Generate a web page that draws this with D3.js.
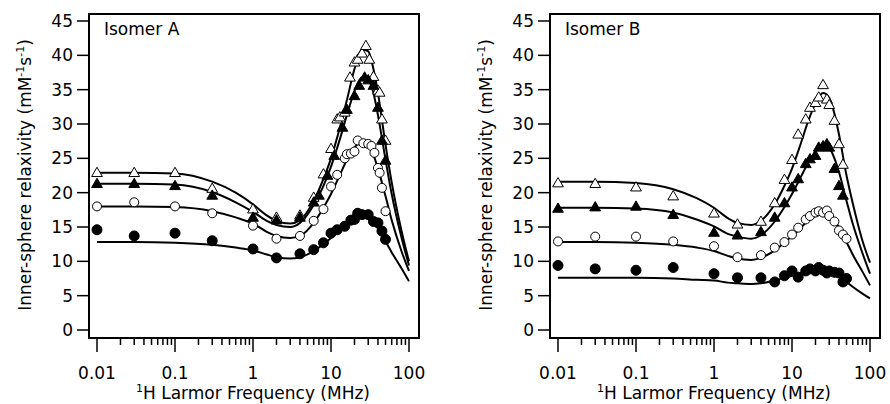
<!DOCTYPE html>
<html>
<head>
<meta charset="utf-8">
<script src="https://cdn.jsdelivr.net/npm/d3@7"></script>
<style>
  body { margin: 0; background: #fff; }
  svg text { font-family: "DejaVu Sans", sans-serif; fill: #000; }
</style>
</head>
<body>
<svg id="chart" width="890" height="404"></svg>
<script>
// ---- data (frequency in MHz, relaxivity in mM-1 s-1) ----
const panelNames = ["Isomer A", "Isomer B"];
const yTicks = [0, 5, 10, 15, 20, 25, 30, 35, 40, 45];
const xTicks = [0.01, 0.1, 1, 10, 100];
const xTickLabels = ["0.01", "0.1", "1", "10", "100"];

// measured points, isomer A
const aOpenTri = [[0.01,22.8],[0.03,22.8],[0.1,22.8],[0.3,20.5],[1,17.5],[2,16.3],[4,16.6],[6,19.2],[8,22.6],[10,26.3],[12,30.6],[13,30.9],[15,31.6],[17.5,36.7],[20,38.9],[22,39.3],[25,40.2],[28,41.3],[31,39.3],[35,36.8],[40,34.8],[42,34.5],[45,30.6],[50,27.5]];
const aFillTri = [[0.01,21.2],[0.03,21.2],[0.1,20.9],[0.3,19.5],[1,16.3],[2,15.9],[4,16.3],[6,18.5],[7,19.5],[9,22.4],[11,25.3],[14,29.4],[16,32.0],[20,34.0],[23,35.5],[27,36.7],[30,36.3],[35,35.5],[40,32.3],[45,27.5],[50,24.6]];
const aOpenCirc = [[0.01,18.0],[0.03,18.6],[0.1,18.0],[0.3,17.0],[1,15.2],[2,13.3],[4,13.7],[6,15.9],[8,17.6],[10,20.9],[12,22.6],[15,25.0],[16,25.6],[18,25.7],[20,26.0],[22,27.6],[26,27.2],[30,27.1],[33,26.8],[36,25.8],[40,23.6],[42,22.9],[45,20.7],[50,17.3]];
const aFillCirc = [[0.01,14.6],[0.03,13.7],[0.1,14.1],[0.3,13.0],[1,11.8],[2,10.5],[4,11.1],[6,11.7],[8,12.7],[10,14.1],[12,14.6],[15,15.1],[18,16.0],[20,16.1],[22,17.0],[25,16.8],[30,16.8],[35,15.8],[40,15.6],[45,14.4],[50,13.2]];

// measured points, isomer B
const bOpenTri = [[0.01,21.3],[0.03,21.2],[0.1,20.7],[0.3,19.4],[1,16.9],[2,15.3],[4,15.7],[6,18.4],[8,21.8],[10,24.7],[12,28.4],[15,30.6],[17,32.3],[20,33.0],[22,33.8],[25,35.6],[28,33.5],[30,32.7],[35,30.4],[40,27.0],[45,24.0]];
const bFillTri = [[0.01,17.6],[0.03,17.8],[0.1,17.9],[0.3,16.7],[1,14.1],[2,13.7],[4,14.2],[6,16.3],[8,18.4],[10,20.7],[12,21.9],[15,24.1],[17,24.8],[20,25.3],[22,26.5],[25,26.7],[28,27.0],[30,26.5],[35,23.4],[40,20.9],[45,19.5]];
const bOpenCirc = [[0.01,12.9],[0.03,13.6],[0.1,13.6],[0.3,12.9],[1,12.2],[2,10.6],[4,10.9],[6,12.0],[8,12.8],[10,13.9],[12,14.9],[15,16.1],[17,16.6],[20,17.1],[22,17.3],[25,17.1],[28,17.4],[30,16.6],[35,15.8],[40,14.5],[45,13.9],[50,13.3]];
const bFillCirc = [[0.01,9.4],[0.03,8.9],[0.1,8.7],[0.3,9.1],[1,8.2],[2,7.6],[4,7.6],[6,7.0],[8,7.9],[10,8.6],[12,7.7],[15,8.6],[17,8.9],[20,8.6],[22,9.1],[25,8.7],[28,8.3],[30,8.6],[35,8.4],[40,8.3],[45,7.0],[50,7.5]];

// fitted curves, sampled at fitFreq
const fitFreq = [0.01,0.03,0.1,0.3,0.6,1,1.5,2,3,4,6,8,10,13,16,20,25,30,35,40,50,60,80,100];
const aFitOpenTri  = [22.9,22.9,22.8,21.6,20.0,18.3,16.7,15.9,15.5,16.0,18.8,22.0,25.0,29.5,33.5,38.0,40.8,40.6,38.0,34.5,27.0,21.5,14.5,10.0];
const aFitFillTri  = [21.3,21.3,21.2,20.1,18.6,17.2,15.9,15.3,15.0,15.6,18.2,21.0,23.8,27.8,31.3,34.8,36.8,36.5,34.5,31.3,24.8,19.8,13.5,9.4];
const aFitOpenCirc = [18.0,18.0,17.9,17.3,16.4,15.5,14.3,13.7,13.4,13.7,15.6,17.8,19.8,22.6,24.8,26.6,27.3,27.0,25.5,23.5,19.5,16.0,11.5,8.6];
const aFitFillCirc = [12.8,12.8,12.7,12.4,12.0,11.6,11.0,10.6,10.4,10.6,11.5,12.5,13.4,14.6,15.5,16.2,16.5,16.3,15.7,14.8,12.9,11.3,9.0,7.1];
const bFitOpenTri  = [21.6,21.6,21.4,20.5,19.2,17.8,16.3,15.6,15.3,15.9,18.3,21.0,23.5,27.2,30.3,33.0,34.5,33.8,31.5,28.5,22.5,18.5,13.0,9.8];
const bFitFillTri  = [17.8,17.8,17.7,17.1,16.1,15.1,14.0,13.6,13.3,13.8,15.8,17.9,19.8,22.3,24.3,26.0,26.9,26.5,25.0,23.0,18.8,15.5,11.2,8.2];
const bFitOpenCirc = [12.8,12.8,12.7,12.4,12.0,11.5,10.8,10.4,10.2,10.5,11.6,12.7,13.7,14.9,15.9,16.6,16.9,16.6,15.9,15.0,12.8,11.0,8.5,6.5];
const bFitFillCirc = [7.6,7.6,7.6,7.5,7.3,7.2,6.9,6.8,6.7,6.8,7.2,7.6,7.9,8.3,8.5,8.7,8.7,8.5,8.2,7.8,7.0,6.3,5.3,4.6];

const panels = [
  { name: panelNames[0], ox: 0,
    fits: [aFitOpenTri, aFitFillTri, aFitOpenCirc, aFitFillCirc],
    pts: [[aOpenTri, "tri", false], [aFillTri, "tri", true], [aOpenCirc, "circ", false], [aFillCirc, "circ", true]] },
  { name: panelNames[1], ox: 461,
    fits: [bFitOpenTri, bFitFillTri, bFitOpenCirc, bFitFillCirc],
    pts: [[bOpenTri, "tri", false], [bFillTri, "tri", true], [bOpenCirc, "circ", false], [bFillCirc, "circ", true]] }
];

const svg = d3.select("#chart");
const y = d3.scaleLinear().domain([0, 45]).range([330, 21]);
const fs = "17px";

panels.forEach(p => {
  const g = svg.append("g").attr("transform", "translate(" + p.ox + ",0)");
  const x = d3.scaleLog().domain([0.01, 100]).range([97, 409]);

  // frame
  g.append("rect")
    .attr("x", 89).attr("y", 14).attr("width", 330).attr("height", 324)
    .attr("fill", "none").attr("stroke", "#000").attr("stroke-width", 2);

  // y ticks
  yTicks.forEach(t => {
    g.append("line").attr("x1", 77).attr("x2", 89).attr("y1", y(t)).attr("y2", y(t))
      .attr("stroke", "#000").attr("stroke-width", 1.5);
    g.append("text").attr("x", 73).attr("y", y(t)).attr("dy", "0.36em")
      .attr("text-anchor", "end").style("font-size", fs).text(t);
  });

  // x ticks (log, major + minor)
  const minor = [];
  for (let d = 0.01; d < 100; d *= 10) {
    for (let k = 2; k <= 9; k++) minor.push(d * k);
  }
  minor.forEach(t => {
    g.append("line").attr("x1", x(t)).attr("x2", x(t)).attr("y1", 338).attr("y2", 345)
      .attr("stroke", "#000").attr("stroke-width", 1.5);
  });
  xTicks.forEach((t, i) => {
    g.append("line").attr("x1", x(t)).attr("x2", x(t)).attr("y1", 338).attr("y2", 352)
      .attr("stroke", "#000").attr("stroke-width", 1.5);
    g.append("text").attr("x", x(t)).attr("y", 379)
      .attr("text-anchor", "middle").style("font-size", fs).text(xTickLabels[i]);
  });

  // axis titles
  const xt = g.append("text").attr("x", 253).attr("y", 399)
    .attr("text-anchor", "middle").style("font-size", fs);
  xt.append("tspan").attr("dy", "-7").style("font-size", "11px").text("1");
  xt.append("tspan").attr("dy", "7").text("H Larmor Frequency (MHz)");

  const yt = g.append("text").attr("transform", "translate(31,175) rotate(-90)")
    .attr("text-anchor", "middle").style("font-size", fs);
  yt.append("tspan").text("Inner-sphere relaxivity (mM");
  yt.append("tspan").attr("dy", "-7").style("font-size", "11px").text("-1");
  yt.append("tspan").attr("dy", "7").text("s");
  yt.append("tspan").attr("dy", "-7").style("font-size", "11px").text("-1");
  yt.append("tspan").attr("dy", "7").text(")");

  g.append("text").attr("x", 104).attr("y", 35).style("font-size", fs).text(p.name);

  // fitted curves
  const line = d3.line()
    .x((d, i) => x(fitFreq[i]))
    .y(d => y(d))
    .curve(d3.curveMonotoneX);
  p.fits.forEach(f => {
    g.append("path").attr("d", line(f))
      .attr("fill", "none").attr("stroke", "#000").attr("stroke-width", 2);
  });

  // markers
  const tri = d3.symbol(d3.symbolTriangle, 50);
  p.pts.forEach(([data, shape, filled]) => {
    const sel = g.append("g").selectAll("path").data(data).enter();
    if (shape === "tri") {
      sel.append("path").attr("d", tri)
        .attr("transform", d => "translate(" + x(d[0]) + "," + y(d[1]) + ")")
        .attr("fill", filled ? "#000" : "#fff").attr("stroke", "#000").attr("stroke-width", 1);
    } else {
      sel.append("circle").attr("cx", d => x(d[0])).attr("cy", d => y(d[1]))
        .attr("r", filled ? 5 : 4.5)
        .attr("fill", filled ? "#000" : "#fff").attr("stroke", "#000").attr("stroke-width", 1);
    }
  });
});
</script>
</body>
</html>
